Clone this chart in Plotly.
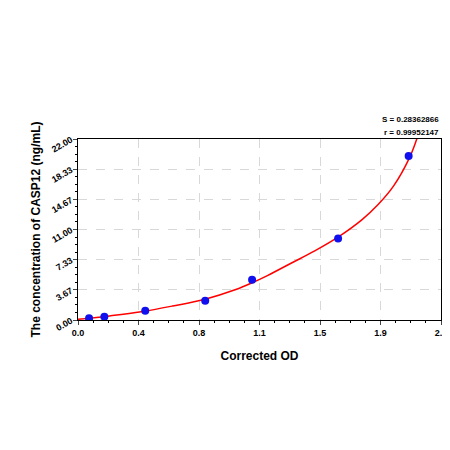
import plotly.graph_objects as go

od = [0.070, 0.167, 0.426, 0.806, 1.103, 1.648, 2.095]
conc = [0.20, 0.41, 1.11, 2.34, 4.89, 9.90, 19.94]
curve_x = [0.0, 0.2, 0.4, 0.6, 0.8, 1.0, 1.1, 1.2, 1.35, 1.5, 1.65, 1.8, 1.9, 2.0, 2.1, 2.15]
curve_y = [0.08, 0.5, 1.0, 1.7, 2.5, 3.7, 4.5, 5.4, 6.9, 8.4, 10.1, 12.2, 14.0, 16.3, 19.7, 22.2]
xticks = [0, 2.3/6, 2*2.3/6, 3*2.3/6, 4*2.3/6, 5*2.3/6, 2.3]
xlabels = ["0.0", "0.4", "0.8", "1.1", "1.5", "1.9", "2.3"]
yticks = [0, 22/6, 2*22/6, 11, 4*22/6, 5*22/6, 22]
ylabels = ["0.00", "3.67", "7.33", "11.00", "14.67", "18.33", "22.00"]

fig = go.Figure()
fig.add_trace(go.Scatter(x=curve_x, y=curve_y, mode="lines", line=dict(color="#ff0000", width=1.5, shape="spline"), hoverinfo="skip"))
fig.add_trace(go.Scatter(x=od, y=conc, mode="markers", marker=dict(color="#1010ee", size=8)))

ax = dict(showline=True, linecolor="black", linewidth=1, mirror=True, ticks="outside", ticklen=4,
          gridcolor="#d8d8d8", griddash="dash", zeroline=False, automargin=False,
          minor=dict(ticks="outside", ticklen=2, tickcolor="black", showgrid=False),
          tickfont=dict(family="Arial, Liberation Sans", size=9, color="black", weight="bold"))
fig.update_layout(
    width=450, height=450, showlegend=False, plot_bgcolor="white", paper_bgcolor="white",
    margin=dict(l=70, r=17, t=131, b=138, autoexpand=False),
    font=dict(family="Arial, Liberation Sans", color="black"),
    xaxis=dict(ax, range=[0, 2.3], tickvals=xticks, ticktext=xlabels, minor=dict(ax["minor"], dtick=2.3/24),
               title=dict(text="<b>Corrected OD</b>", font=dict(size=12), standoff=14)),
    yaxis=dict(ax, range=[0, 22], tickvals=yticks, ticktext=ylabels, tickangle=-30, minor=dict(ax["minor"], dtick=22/24),
               title=dict(text="<b>The concentration of CASP12 (ng/mL)</b>", font=dict(size=12), standoff=6)),
    annotations=[
        dict(text="<b>S = 0.28362866</b>", x=1, xref="paper", xanchor="right", y=0, yref="paper", showarrow=False,
             font=dict(size=8)),
        dict(text="<b>r = 0.99952147</b>", x=1, xref="paper", xanchor="right", y=0, yref="paper", showarrow=False,
             font=dict(size=8)),
    ],
)
h = 450 - 131 - 138
fig.layout.annotations[0].y = (450 - 138 - 105) / h
fig.layout.annotations[1].y = (450 - 138 - 118) / h
fig.write_html("out.html")
